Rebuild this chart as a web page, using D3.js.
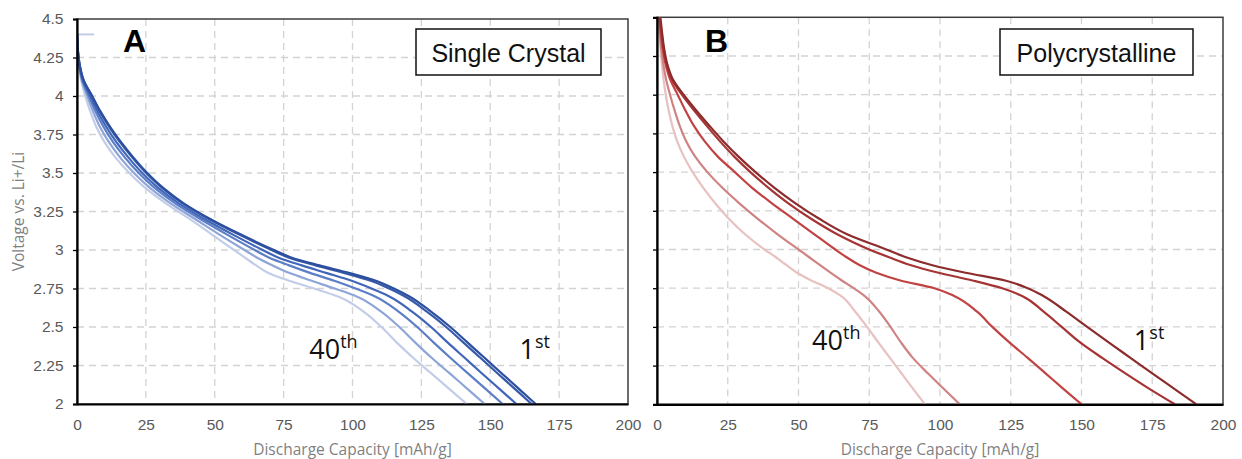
<!DOCTYPE html>
<html lang="en">
<head>
<meta charset="UTF-8">
<title>Discharge curves: single crystal vs polycrystalline</title>
<script src="https://cdn.jsdelivr.net/npm/d3@7"></script>
<style>
  body { margin: 0; background: #fff; }
  svg text { font-family: "Liberation Sans", Arial, sans-serif; }
  .tick text { fill: #595959; font-size: 15.5px; }
  .axis-title { fill: #7f7f7f; font-family: "Open Sans", sans-serif; font-size: 15.5px; }
  .grid line { stroke: #d3d3d3; stroke-width: 1.3; stroke-dasharray: 7,5; }
  .cycle-label { font-family: "Open Sans", sans-serif; font-size: 27px; fill: #111; }
</style>
</head>
<body>
<svg id="chart" width="1242" height="459"></svg>
<script>
const capacityTicks = [0, 25, 50, 75, 100, 125, 150, 175, 200];
const voltageTicks = [2, 2.25, 2.5, 2.75, 3, 3.25, 3.5, 3.75, 4, 4.25, 4.5];

// A: single crystal, capacity [mAh/g] read at each voltage level
const voltageA = [4.4, 4.3, 4.2, 4.1, 4.0, 3.9, 3.8, 3.7, 3.6, 3.5, 3.4, 3.3, 3.2, 3.1, 3.0,
  2.95, 2.9, 2.85, 2.8, 2.75, 2.7, 2.6, 2.5, 2.4, 2.3, 2.2, 2.1, 2.0];
const scCycle1 = [0, 0.3, 1.0, 2.5, 5.5, 8.5, 12, 16, 20.5, 25.5, 31.5, 39, 48.5, 59.5, 71.5,
  78, 88, 99, 108.5, 115, 120.5, 128.5, 135.5, 141.7, 147.9, 154.1, 160.3, 166.5];
const scCycle2 = [0, 0.3, 1.0, 2.4, 5.4, 8.3, 11.7, 15.6, 20.1, 25.1, 31.1, 38.6, 48.1, 58.9, 70.6,
  77.0, 86.6, 97.2, 106.6, 113.3, 118.9, 127.0, 134.0, 140.2, 146.4, 152.6, 158.8, 165.0];
const scCycle3 = [0, 0.3, 0.9, 2.2, 4.8, 7.5, 10.6, 14.3, 18.7, 23.7, 29.7, 37.2, 46.4, 56.6, 67.4,
  73.2, 81.6, 90.7, 99.7, 106.9, 113.2, 121.6, 128.5, 134.5, 140.7, 146.9, 153.2, 159.5];
const scCycle4 = [0, 0.25, 0.8, 2.0, 4.3, 6.7, 9.6, 13.1, 17.4, 22.4, 28.4, 35.9, 44.9, 54.5, 64.5,
  69.8, 77.0, 84.8, 93.4, 101.1, 108.0, 116.7, 123.5, 129.4, 135.5, 141.8, 148.2, 154.5];
const scCycle5 = [0, 0.2, 0.7, 1.8, 3.7, 5.8, 8.3, 11.6, 15.7, 20.7, 26.7, 34.2, 43.0, 51.7, 60.8,
  65.4, 71.0, 77.2, 85.2, 93.5, 101.3, 110.4, 117.0, 122.7, 128.7, 135.2, 141.6, 148.0];
const scCycle40 = [0, 0.2, 0.6, 1.5, 3.0, 4.8, 7.0, 10.0, 14.0, 19.0, 25.0, 32.5, 41, 49, 57,
  61, 65, 69.5, 77, 86, 94.5, 104, 110.5, 116, 122, 128.5, 135, 141.5];
// short rest segment at the top of panel A
const restCap = [0, 6.2];
const restVolt = [4.4, 4.4];

// B: polycrystalline
const voltageB = [4.5, 4.4, 4.3, 4.2, 4.1, 4.0, 3.9, 3.8, 3.7, 3.6, 3.5, 3.4, 3.3, 3.2, 3.1, 3.0,
  2.95, 2.9, 2.85, 2.8, 2.75, 2.7, 2.6, 2.5, 2.4, 2.3, 2.2, 2.1, 2.0];
const pcCycle1 = [1.2, 1.8, 2.5, 3.6, 5.6, 9.4, 13.8, 18.5, 23.4, 28.8, 34.8, 41.4, 48.8, 57.2, 67, 81,
  88, 97, 109, 123, 131, 136.5, 144.5, 152, 159.6, 167.3, 175, 182.8, 190.6];
const pcCycle2 = [1.0, 1.6, 2.3, 3.3, 5.2, 8.8, 13, 17.5, 22.2, 27.3, 33, 39.3, 46.3, 54.3, 63.5, 75,
  82, 89.5, 99.5, 111.5, 122, 129, 136.5, 143, 149.5, 157.3, 165.5, 174, 183];
const pcCycle3 = [0.8, 1.3, 2.0, 3.0, 4.6, 7.3, 10, 13, 16.8, 21.5, 27.5, 33.5, 40.5, 48, 55.5, 63,
  67, 71.5, 77.5, 86, 98, 105, 113, 118.5, 124.5, 131, 137.3, 143.6, 150];
const pcCycle4 = [0.6, 1.0, 1.5, 2.2, 3.2, 4.6, 6.2, 8.0, 10.3, 13.5, 17.8, 23, 29, 35.5, 42.5, 50,
  53.8, 57.5, 61.3, 65.3, 69.5, 73.3, 78.5, 82.5, 86.2, 90.4, 95.7, 101.3, 107];
const pcCycle40 = [0.4, 0.8, 1.2, 1.7, 2.3, 3.1, 4.1, 5.4, 7.1, 9.5, 12.6, 16.3, 20.5, 25.3, 31, 38,
  42, 45.7, 49.5, 54.5, 60.5, 65, 70, 74.2, 78.2, 82.3, 86.4, 90.5, 94.7];

const blues = ["#c3cde9", "#8ea5d8", "#5c7ec7", "#4065b9", "#3659aa", "#2c4f9e"];
const reds = ["#e8c1c1", "#d08383", "#c14343", "#a73434", "#8c2c2c"];

const panels = [
  {
    id: "A", left: 77, right: 628, top: 19, bottom: 404, yLabels: true,
    box: { x: 416, y: 29, w: 185, h: 46, text: "Single Crystal" },
    curves: [scCycle40, scCycle5, scCycle4, scCycle3, scCycle2, scCycle1].map((c, i) =>
      ({ cap: c, volt: voltageA, color: blues[i] })),
    extra: { cap: restCap, volt: restVolt, color: blues[0] },
    labels: [
      { cap: 84.3, volt: 2.292, main: "40", sup: "th" },
      { cap: 160.6, volt: 2.292, main: "1", sup: "st" }
    ]
  },
  {
    id: "B", left: 657, right: 1223, top: 17.3, bottom: 404.3, yLabels: false,
    box: { x: 1000, y: 29, w: 193, h: 46, text: "Polycrystalline" },
    curves: [pcCycle40, pcCycle4, pcCycle3, pcCycle2, pcCycle1].map((c, i) =>
      ({ cap: c, volt: voltageB, color: reds[i] })),
    labels: [
      { cap: 54.8, volt: 2.348, main: "40", sup: "th" },
      { cap: 168.5, volt: 2.348, main: "1", sup: "st" }
    ]
  }
];

const svg = d3.select("#chart");

panels.forEach(p => {
  const x = d3.scaleLinear().domain([0, 200]).range([p.left, p.right]);
  const y = d3.scaleLinear().domain([2, 4.5]).range([p.bottom, p.top]);
  const g = svg.append("g");

  // grid
  g.append("g").attr("class", "grid")
    .selectAll("line").data(capacityTicks.slice(1, -1)).join("line")
    .attr("x1", d => x(d)).attr("x2", d => x(d))
    .attr("y1", p.top).attr("y2", p.bottom);
  g.append("g").attr("class", "grid")
    .selectAll("line").data(voltageTicks.slice(1, -1)).join("line")
    .attr("x1", p.left).attr("x2", p.right)
    .attr("y1", d => y(d)).attr("y2", d => y(d));

  // frame
  g.append("rect")
    .attr("x", p.left).attr("y", p.top)
    .attr("width", p.right - p.left).attr("height", p.bottom - p.top)
    .attr("fill", "none").attr("stroke", "#3c3c3c").attr("stroke-width", 1.5);

  // curves
  const clipId = "clip" + p.id;
  g.append("clipPath").attr("id", clipId).append("rect")
    .attr("x", p.left).attr("y", p.top)
    .attr("width", p.right - p.left).attr("height", p.bottom - p.top);
  const line = d3.line()
    .x(d => x(d[0])).y(d => y(d[1]))
    .curve(d3.curveMonotoneY);
  const plot = g.append("g").attr("clip-path", `url(#${clipId})`);
  if (p.extra) {
    plot.append("path")
      .attr("d", d3.line().x(d => x(d[0])).y(d => y(d[1]))(d3.zip(p.extra.cap, p.extra.volt)))
      .attr("fill", "none").attr("stroke", p.extra.color).attr("stroke-width", 2);
  }
  p.curves.forEach(c => {
    plot.append("path")
      .attr("d", line(d3.zip(c.cap, c.volt)))
      .attr("fill", "none")
      .attr("stroke", c.color)
      .attr("stroke-width", 2.2)
      .attr("stroke-linejoin", "round");
  });

  // axes
  const xAxis = g.append("g")
    .attr("transform", `translate(0,${p.bottom})`)
    .call(d3.axisBottom(x).tickValues(capacityTicks).tickSize(0).tickPadding(15));
  xAxis.select(".domain").attr("stroke", "#000").attr("stroke-width", 2.2);

  const yAxis = g.append("g")
    .attr("transform", `translate(${p.left},0)`)
    .call(d3.axisLeft(y).tickValues(voltageTicks).tickSizeOuter(0).tickSize(4).tickPadding(9.5)
      .tickFormat(p.yLabels ? d3.format("") : () => ""));
  yAxis.select(".domain").attr("stroke", "#000").attr("stroke-width", 2.2);
  yAxis.selectAll(".tick line").attr("stroke", "#000").attr("stroke-width", 1.3);

  // titles
  g.append("text").attr("class", "axis-title")
    .attr("x", (p.left + p.right) / 2).attr("y", 455)
    .attr("text-anchor", "middle")
    .text("Discharge Capacity [mAh/g]");
  if (p.yLabels) {
    g.append("text").attr("class", "axis-title")
      .attr("transform", `translate(24,${(p.top + p.bottom) / 2}) rotate(-90)`)
      .attr("text-anchor", "middle")
      .text("Voltage vs. Li+/Li");
  }

  // panel letter
  g.append("text")
    .attr("x", p.id === "A" ? 123 : 705).attr("y", 52)
    .attr("font-size", 32).attr("font-weight", "bold").attr("fill", "#000")
    .text(p.id);

  // material box
  g.append("rect")
    .attr("x", p.box.x).attr("y", p.box.y).attr("width", p.box.w).attr("height", p.box.h)
    .attr("fill", "#fff").attr("stroke", "#111").attr("stroke-width", 1.5);
  g.append("text")
    .attr("x", p.box.x + p.box.w / 2).attr("y", p.box.y + 33)
    .attr("text-anchor", "middle").attr("font-size", 25).attr("fill", "#111")
    .text(p.box.text);

  // cycle labels
  p.labels.forEach(l => {
    const t = g.append("text").attr("class", "cycle-label")
      .attr("x", x(l.cap)).attr("y", y(l.volt));
    t.append("tspan").text(l.main);
    t.append("tspan").attr("dy", -11).attr("font-size", 18).text(l.sup);
  });
});
</script>
</body>
</html>
